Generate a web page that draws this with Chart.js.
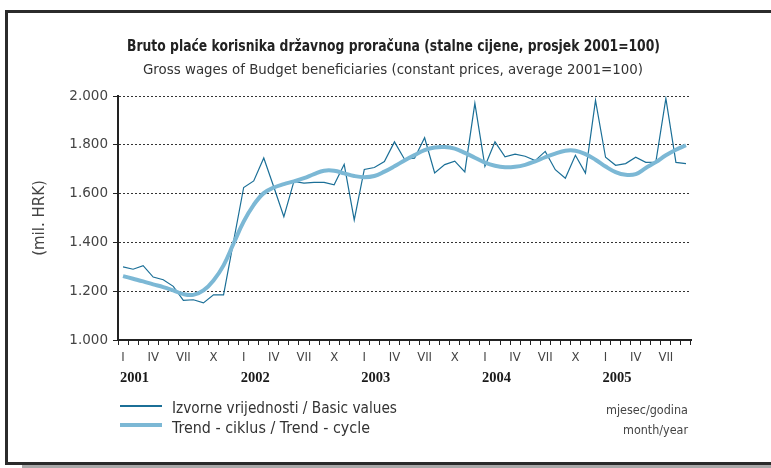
<!DOCTYPE html>
<html>
<head>
<meta charset="utf-8">
<script src="https://cdn.jsdelivr.net/npm/chart.js@4"></script>
<style>
  body { margin: 0; background: #fff; }
  #wrap { position: absolute; left: 0; top: 0; width: 771px; height: 468px; overflow: hidden; }
  #frame { position: absolute; left: 5px; top: 10px; width: 820px; height: 449px; border: 3px solid #2b2b2b; }
  #shadow { position: absolute; left: 22px; top: 465px; width: 800px; height: 3px; background: #a8a8a8; }
  canvas { position: absolute; left: 0; top: 0; }
  .txt { position: absolute; white-space: nowrap; color: #222; line-height: 18px; transform-origin: left center;
         font-family: 'DejaVu Sans Condensed', 'DejaVu Sans', sans-serif; }
  .key { position: absolute; left: 120px; width: 42px; }
</style>
</head>
<body>
<div id="wrap">
  <div id="frame"></div>
  <div id="shadow"></div>
  <canvas id="graph" width="771" height="468"></canvas>
  <span class="txt fit" data-w="533" style="left:127px; top:37px; font-size:15px; font-weight:bold;">Bruto plaće korisnika državnog proračuna (stalne cijene, prosjek 2001=100)</span>
  <span class="txt fit" data-w="500" style="left:143px; top:60px; font-size:14px; color:#333;">Gross wages of Budget beneficiaries (constant prices, average 2001=100)</span>
  <div class="key" style="top:405px; height:1.5px; background:#1b6f97;"></div>
  <div class="key" style="top:423px; height:4px; background:#7cb8d5;"></div>
  <span class="txt fit" data-w="225" style="left:172px; top:399px; font-size:15px; color:#333;">Izvorne vrijednosti / Basic values</span>
  <span class="txt fit" data-w="198" style="left:172px; top:419px; font-size:15px; color:#333;">Trend - ciklus / Trend - cycle</span>
  <span class="txt fit" data-w="82" style="left:606px; top:401px; font-size:13px; color:#444;">mjesec/godina</span>
  <span class="txt fit" data-w="65" style="left:623px; top:421px; font-size:13px; color:#444;">month/year</span>
</div>
<script>
var years = ['2001', '2002', '2003', '2004', '2005'];
var monthNames = ['I','II','III','IV','V','VI','VII','VIII','IX','X','XI','XII'];
var shownMonths = ['I', 'IV', 'VII', 'X'];
var nMonths = 57; // I/2001 - IX/2005

// izvorne vrijednosti (mil. HRK)
var basicValues = [
  1300, 1290, 1305, 1258, 1247, 1220, 1162, 1165, 1152, 1185, 1185, 1405,
  1625, 1652, 1746, 1627, 1505, 1650, 1643, 1646, 1646, 1636, 1720, 1492,
  1699, 1707, 1731, 1812, 1741, 1745, 1829, 1685, 1719, 1733, 1689, 1970,
  1712, 1812, 1751, 1762, 1753, 1735, 1773, 1698, 1663, 1757, 1684, 1982,
  1749, 1716, 1723, 1749, 1728, 1729, 1990, 1728, 1723
];
// trend - ciklus
var trendValues = [
  1262, 1251, 1240, 1228, 1217, 1203, 1188, 1185, 1203, 1244, 1306, 1396,
  1485, 1554, 1602, 1625, 1639, 1650, 1663, 1680, 1694, 1694, 1683, 1672,
  1667, 1672, 1690, 1712, 1736, 1758, 1778, 1789, 1791, 1784, 1767, 1747,
  1727, 1714, 1708, 1710, 1718, 1732, 1749, 1764, 1776, 1776, 1762, 1739,
  1711, 1688, 1677, 1680, 1705, 1729, 1757, 1780, 1798
];
var yTicks = [1000, 1200, 1400, 1600, 1800, 2000];

var categories = [];
for (var i = 0; i < nMonths; i++) {
  categories.push(monthNames[i % 12] + '/' + years[Math.floor(i / 12)]);
}

function fmt(v) {
  return String(v).replace(/\B(?=(\d{3})+(?!\d))/g, '.');
}

var yearLabels = {
  id: 'yearLabels',
  afterDraw: function(chart) {
    var ctx = chart.ctx, xs = chart.scales.x;
    ctx.save();
    ctx.font = 'bold 14.5px "Liberation Serif", serif';
    ctx.fillStyle = '#1a1a1a';
    ctx.textAlign = 'left';
    ctx.textBaseline = 'middle';
    for (var i = 0; i < nMonths; i += 12) {
      ctx.fillText(years[i / 12], xs.getPixelForValue(i) - 3, xs.top + 38);
    }
    ctx.restore();
  }
};

new Chart('graph', {
  type: 'line',
  data: {
    labels: categories,
    datasets: [{
      label: 'Trend - ciklus / Trend - cycle',
      data: trendValues,
      borderColor: '#7cb8d5',
      borderWidth: 4,
      pointRadius: 0,
      tension: 0.4,
      fill: false
    }, {
      label: 'Izvorne vrijednosti / Basic values',
      data: basicValues,
      borderColor: '#1b6f97',
      borderWidth: 1.2,
      pointRadius: 0,
      tension: 0,
      fill: false
    }]
  },
  options: {
    responsive: false,
    animation: false,
    layout: { padding: { left: 0, right: 80, top: 96, bottom: 0 } },
    plugins: { legend: { display: false }, tooltip: { enabled: false } },
    scales: {
      x: {
        type: 'category',
        offset: true,
        afterFit: function(s) { s.height = 128; },
        grid: { offset: true, drawOnChartArea: false, tickLength: 5, tickColor: '#222', tickWidth: 1 },
        border: { display: true, color: '#222', width: 2 },
        ticks: {
          autoSkip: false, maxRotation: 0, minRotation: 0, padding: 5, color: '#444',
          font: { family: '"DejaVu Sans Condensed", "DejaVu Sans", sans-serif', size: 13 },
          callback: function(v, i) {
            var m = monthNames[i % 12];
            return shownMonths.indexOf(m) >= 0 ? m : '';
          }
        }
      },
      y: {
        min: 1000, max: 2000,
        afterFit: function(s) { s.width = 118; },
        afterBuildTicks: function(s) { s.ticks = yTicks.map(function(v) { return { value: v }; }); },
        grid: { color: '#333', lineWidth: 1, tickLength: 5, tickColor: '#222', tickBorderDash: [] },
        border: { display: true, color: '#222', width: 2, dash: [2, 2] },
        ticks: {
          padding: 5, color: '#444',
          font: { family: '"DejaVu Sans", sans-serif', size: 13.5 },
          callback: function(v) { return fmt(v); }
        },
        title: {
          display: true, text: '(mil. HRK)', color: '#444', padding: { top: 31 },
          font: { family: '"DejaVu Sans", sans-serif', size: 15 }
        }
      }
    }
  },
  plugins: [yearLabels]
});

document.querySelectorAll('.fit').forEach(function(el) {
  var w = +el.dataset.w;
  var r = w / el.getBoundingClientRect().width;
  el.style.transform = 'scaleX(' + r + ')';
});
</script>
</body>
</html>
